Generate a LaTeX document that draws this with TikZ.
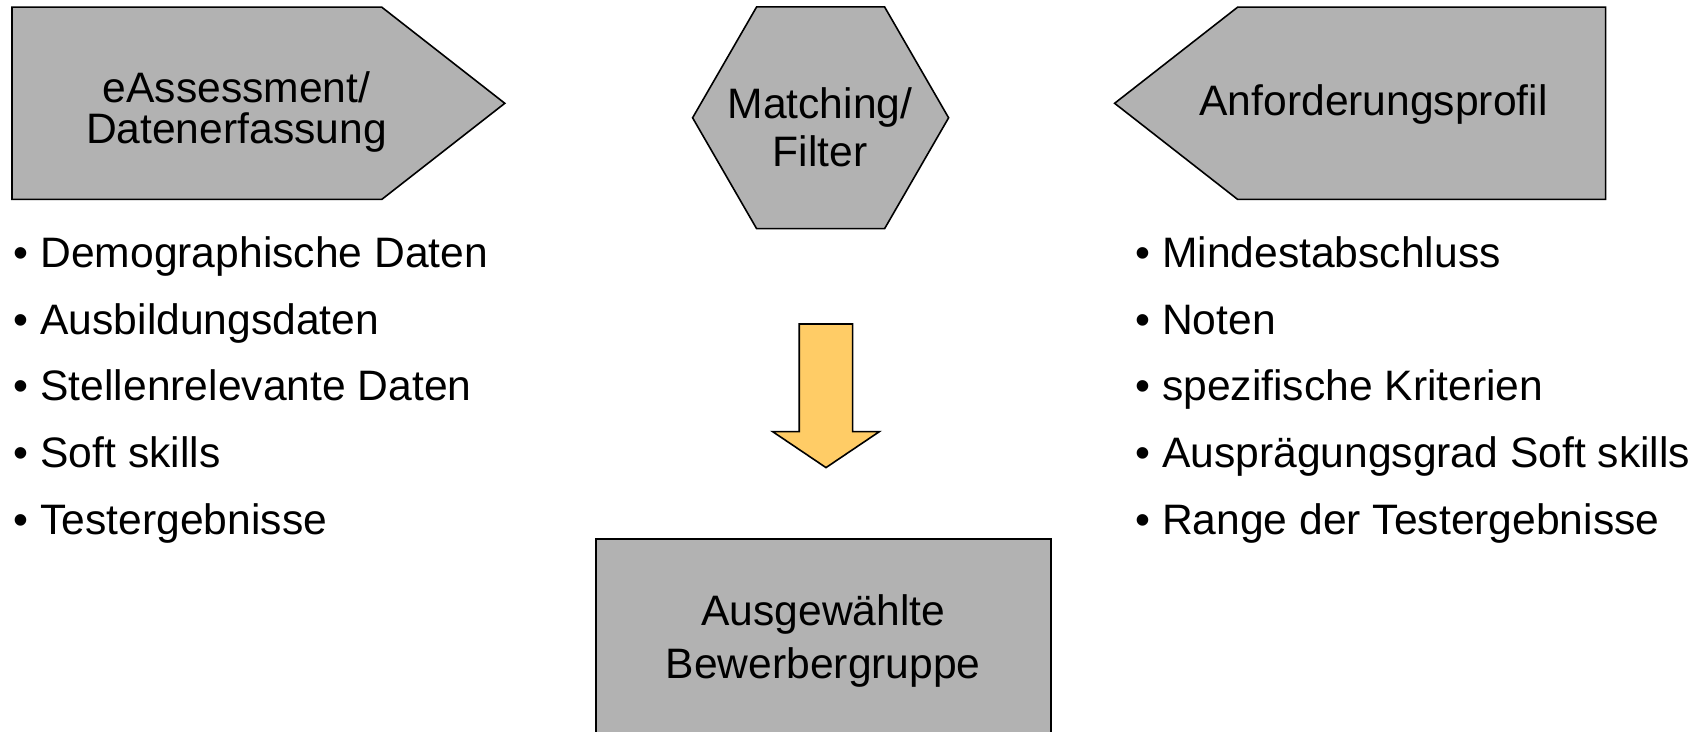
\documentclass[tikz,border=0pt]{standalone}
\usepackage{fontspec}
\setmainfont{Liberation Sans}
\usepackage{tikz}
\usetikzlibrary{positioning,shapes}

\definecolor{kasten}{RGB}{178,178,178}
\definecolor{pfeilgelb}{RGB}{255,204,102}

\begin{document}
\begin{tikzpicture}[x = 1pt, y = 1pt,
        every node/.style = {inner sep = 0pt, outer sep = 0pt, font = \fontsize{21.3}{20.8}\selectfont},
        form/.style = {draw, line width = 0.8pt, fill = kasten}]
        \useasboundingbox (0,0) rectangle (854,-366);
        \clip (0,0) rectangle (854,-366);

        % Formen oben
        \node(eas)[form, signal, signal to = east, signal pointer angle = 76,
            minimum width = 246.4pt, minimum height = 96.1pt, anchor = north west] at (6,-3.6) {};
        \node(match)[form, regular polygon, regular polygon sides = 6, minimum size = 128pt] at (410.3,-58.9) {};
        \node(anf)[form, signal, signal to = west, signal pointer angle = 76,
            minimum width = 245.5pt, minimum height = 96.1pt, anchor = north east] at (802.8,-3.6) {};

        \node(eastext)[align = center] at (118.2,-56) {eAssessment/\\Datenerfassung};
        \node(matchtext)[align = center, font = \fontsize{21.3}{24}\selectfont] at (410,-63.8) {Matching/\\Filter};
        \node(anftext) at (686.8,-52) {Anforderungsprofil};

        % Pfeil und Ergebnis
        \draw[line width = 0.8pt, fill = pfeilgelb] (399.6,-162) -- (399.6,-215.8) -- (386.3,-215.8) -- (413,-233.8)
            -- (439.7,-215.8) -- (426.3,-215.8) -- (426.3,-162) -- cycle;
        \node(result)[form, minimum width = 227.5pt, minimum height = 100pt, anchor = north] at (411.7,-269.5) {};
        \node(resulttext)[align = center, font = \fontsize{21.3}{26.5}\selectfont] at (411.6,-320.6) {Ausgewählte\\Bewerbergruppe};

        % Listen
        \node(e1)[anchor = base west] at (6.9,-133.9) {• Demographische Daten};
        \node(e2)[below = 33.3pt of e1.base west, anchor = base west] {• Ausbildungsdaten};
        \node(e3)[below = 33.3pt of e2.base west, anchor = base west] {• Stellenrelevante Daten};
        \node(e4)[below = 33.3pt of e3.base west, anchor = base west] {• Soft skills};
        \node(e5)[below = 33.3pt of e4.base west, anchor = base west] {• Testergebnisse};

        \node(a1)[anchor = base west] at (567.7,-133.9) {• Mindestabschluss};
        \node(a2)[below = 33.3pt of a1.base west, anchor = base west] {• Noten};
        \node(a3)[below = 33.3pt of a2.base west, anchor = base west] {• spezifische Kriterien};
        \node(a4)[below = 33.3pt of a3.base west, anchor = base west] {• Ausprägungsgrad Soft skills};
        \node(a5)[below = 33.3pt of a4.base west, anchor = base west] {• Range der Testergebnisse};

    \end{tikzpicture}
\end{document}
